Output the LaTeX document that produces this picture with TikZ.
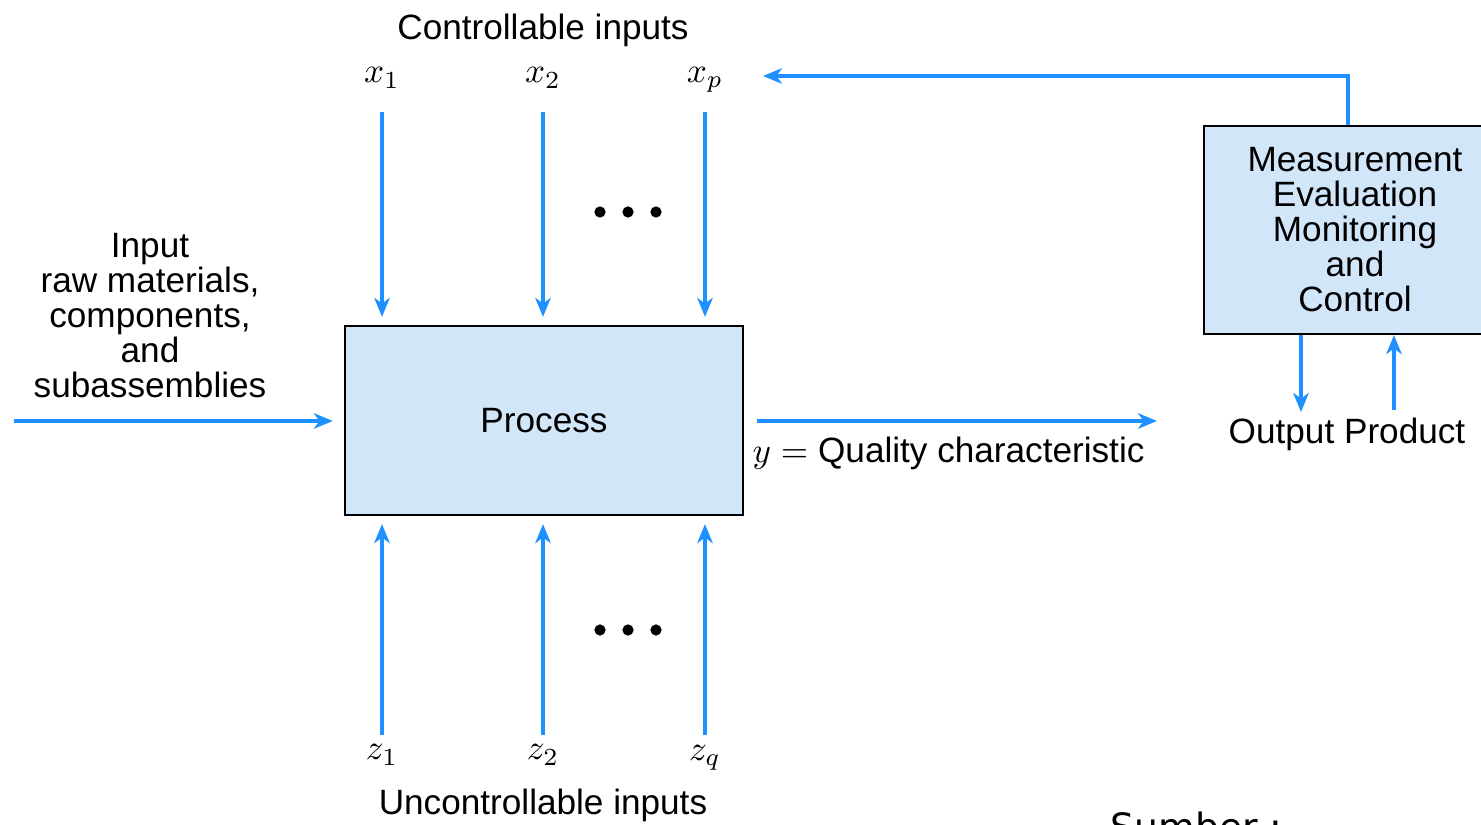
\documentclass[tikz,border=0pt]{standalone}
\usepackage{amsmath}
\usepackage{fontspec}
\setmainfont{Liberation Sans}
\newfontfamily\srcfont{DejaVu Sans}
\usepackage{tikz}
\usetikzlibrary{arrows.meta,calc}

\definecolor{flowblue}{RGB}{30,144,255}
\definecolor{boxfill}{RGB}{210,230,250}

\tikzset{
  flow/.style={draw=flowblue, line width=1.15pt,
    -{Stealth[length=5.4pt, width=4.4pt, inset=1.6pt]}},
  procbox/.style={draw=black, line width=0.6pt, fill=boxfill, inner sep=0pt},
  lbl/.style={inner sep=0pt, align=center}
}

\begin{document}
\begin{tikzpicture}[x=0.01cm, y=-0.01cm, font=\fontsize{10}{9.95}\selectfont]
  \clip (0,0) rectangle (1481,825);

  % boxes
  \node[procbox, minimum width=3.98cm, minimum height=1.89cm] (process) at (544,420.5) {Process};
  \node[procbox, minimum width=3.02cm, minimum height=2.08cm, lbl] (meas) at (1355,230)
    {Measurement\\Evaluation\\Monitoring\\and\\Control};

  % controllable inputs
  \node[lbl] (ctrl) at (543,30) {Controllable inputs};
  \node[lbl] (x1) at (382,78) {$x_1$};
  \node[lbl] (x2) at (543,78) {$x_2$};
  \node[lbl] (xp) at (705,80) {$x_p$};
  \coordinate (x1s) at (382,112);
  \coordinate (x2s) at (543,112);
  \coordinate (xps) at (705,112);
  \draw[flow, shorten >=0.08cm] (x1s) -- (process.north -| x1s);
  \draw[flow, shorten >=0.08cm] (x2s) -- (process.north -| x2s);
  \draw[flow, shorten >=0.08cm] (xps) -- (process.north -| xps);
  \foreach \dx in {600,628,656}
    \fill (\dx,212) circle[radius=1.6pt];

  % uncontrollable inputs
  \node[lbl] (unctrl) at (543,805) {Uncontrollable inputs};
  \node[lbl] (z1) at (382,755) {$z_1$};
  \node[lbl] (z2) at (543,755) {$z_2$};
  \node[lbl] (zq) at (705,758) {$z_q$};
  \coordinate (z1s) at (382,735);
  \coordinate (z2s) at (543,735);
  \coordinate (zqs) at (705,735);
  \draw[flow, shorten >=0.08cm] (z1s) -- (process.south -| z1s);
  \draw[flow, shorten >=0.08cm] (z2s) -- (process.south -| z2s);
  \draw[flow, shorten >=0.08cm] (zqs) -- (process.south -| zqs);
  \foreach \dx in {600,628,656}
    \fill (\dx,630) circle[radius=1.6pt];

  % raw input
  \node[lbl] (raw) at (150,316)
    {Input\\raw materials,\\components,\\and\\subassemblies};
  \coordinate (inL) at (14,421);
  \draw[flow, shorten >=0.11cm] (inL) -- (process.west |- inL);

  % output
  \coordinate (outR) at (1157,421);
  \draw[flow, shorten <=0.13cm] (process.east |- outR) -- (outR);
  \node[lbl, anchor=west] (qual) at (752,453) {$y=$ Quality characteristic};

  % feedback
  \coordinate (fbTop) at (1348,76);
  \coordinate (fbEnd) at (763,76);
  \draw[flow] (meas.north -| fbTop) -- (fbTop) -- (fbEnd);

  % output product
  \node[lbl] (prod) at (1347,434) {Output Product};
  \coordinate (downEnd) at (1301,412);
  \coordinate (upStart) at (1394,410);
  \draw[flow] (meas.south -| downEnd) -- (downEnd);
  \draw[flow] (upStart) -- (meas.south -| upStart);

  % source (cut off at the lower edge, as in the original)
  \node[inner sep=0pt, anchor=north west, font=\srcfont\fontsize{10.7}{12}\selectfont] (src) at (1110,811) {Sumber :};
\end{tikzpicture}
\end{document}
